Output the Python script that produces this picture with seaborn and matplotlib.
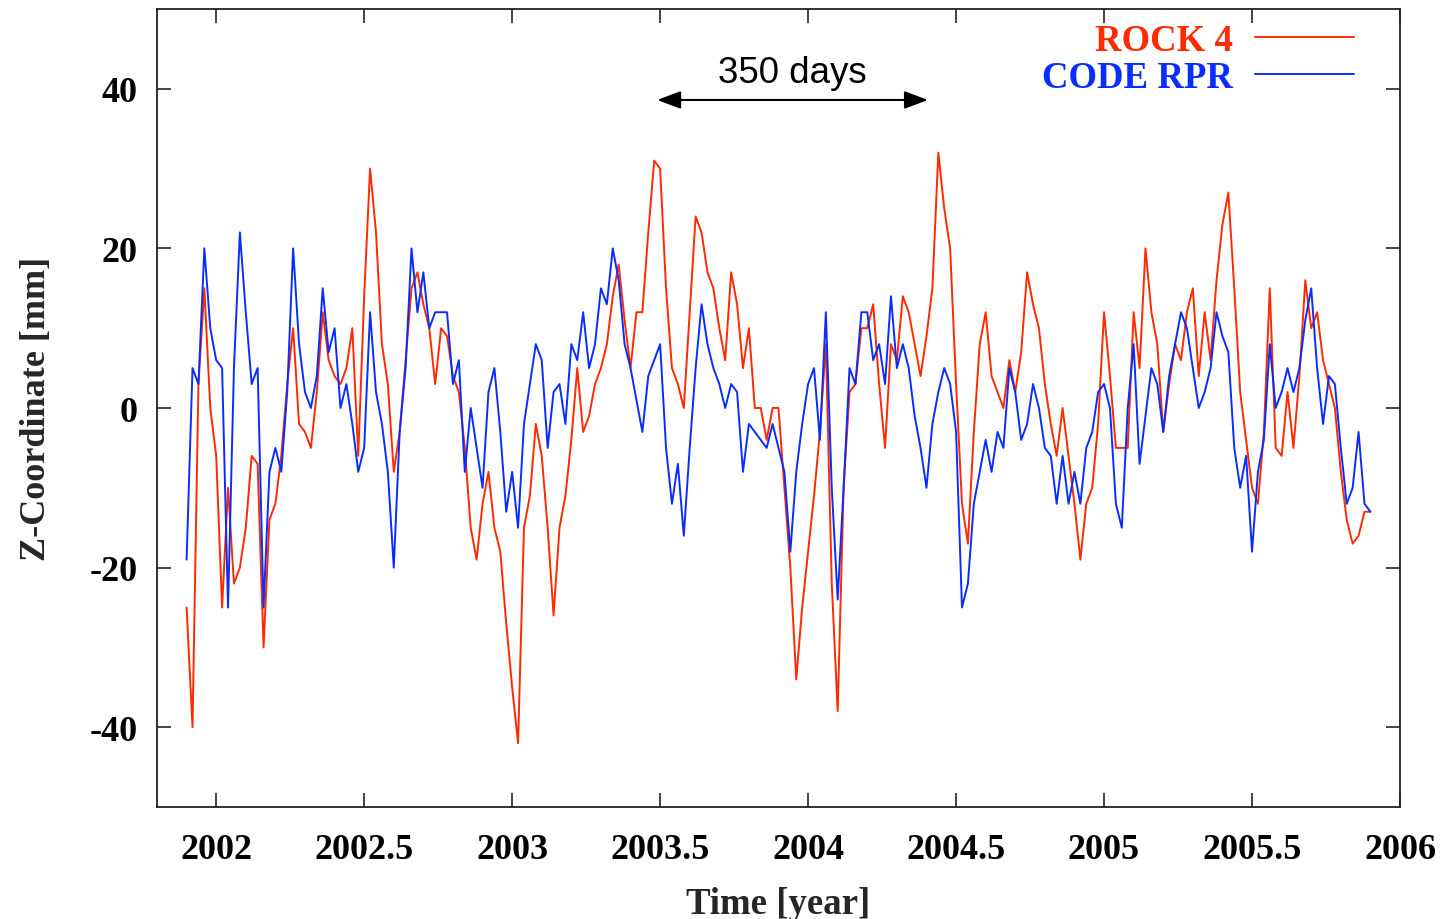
import numpy as np
import pandas as pd
import matplotlib
matplotlib.use("Agg")
import matplotlib.pyplot as plt
import seaborn as sns

# ---- data (~weekly samples) ----
t_start = 2001.90
t_step = 0.02
rock4 = [-25, -40, 3, 15, 0, -6, -25, -10, -22, -20, -15, -6, -7, -30, -14, -12, -6, 3, 10, -2,
         -3, -5, 2, 12, 6, 4, 3, 5, 10, -6, 14, 30, 22, 8, 3, -8, -3, 6, 15, 17,
         13, 10, 3, 10, 9, 4, 2, -5, -15, -19, -12, -8, -15, -18, -27, -35, -42, -15, -11, -2,
         -6, -15, -26, -15, -11, -4, 5, -3, -1, 3, 5, 8, 14, 18, 11, 5, 12, 12, 22, 31,
         30, 15, 5, 3, 0, 12, 24, 22, 17, 15, 10, 6, 17, 13, 5, 10, 0, 0, -4, 0,
         0, -10, -20, -34, -25, -18, -11, -3, 8, -22, -38, -10, 2, 3, 10, 10, 13, 3, -5, 8,
         6, 14, 12, 8, 4, 9, 15, 32, 25, 20, 3, -12, -17, -3, 8, 12, 4, 2, 0, 6,
         2, 7, 17, 13, 10, 3, -2, -6, 0, -6, -12, -19, -12, -10, -2, 12, 4, -5, -5, -5,
         12, 5, 20, 12, 8, -3, 3, 8, 6, 12, 15, 4, 12, 6, 16, 23, 27, 15, 2, -4,
         -10, -12, -3, 15, -5, -6, 2, -5, 4, 16, 10, 12, 6, 3, 0, -8, -14, -17, -16, -13,
         -13]
code_rpr = [-19, 5, 3, 20, 10, 6, 5, -25, 5, 22, 12, 3, 5, -25, -8, -5, -8, 2, 20, 8,
            2, 0, 4, 15, 7, 10, 0, 3, -2, -8, -5, 12, 2, -2, -8, -20, -3, 5, 20, 12,
            17, 10, 12, 12, 12, 3, 6, -8, 0, -5, -10, 2, 5, -3, -13, -8, -15, -2, 3, 8,
            6, -5, 2, 3, -2, 8, 6, 12, 5, 8, 15, 13, 20, 16, 8, 5, 1, -3, 4, 6,
            8, -5, -12, -7, -16, -5, 5, 13, 8, 5, 3, 0, 3, 2, -8, -2, -3, -4, -5, -2,
            -5, -8, -18, -8, -2, 3, 5, -4, 12, -10, -24, -10, 5, 3, 12, 12, 6, 8, 3, 14,
            5, 8, 5, -1, -5, -10, -2, 2, 5, 3, -3, -25, -22, -12, -8, -4, -8, -3, -5, 5,
            2, -4, -2, 3, 0, -5, -6, -12, -6, -12, -8, -12, -5, -3, 2, 3, 0, -12, -15, 0,
            8, -7, -1, 5, 3, -3, 4, 8, 12, 10, 5, 0, 2, 5, 12, 9, 7, -5, -10, -6,
            -18, -8, -4, 8, 0, 2, 5, 2, 5, 11, 15, 5, -2, 4, 3, -5, -12, -10, -3, -12,
            -13]
series_names = ["ROCK 4", "CODE RPR"]
series_colors = ["#ff2a00", "#0a2dff"]
xticks = [2002, 2002.5, 2003, 2003.5, 2004, 2004.5, 2005, 2005.5, 2006]
xtick_labels = ["2002", "2002.5", "2003", "2003.5", "2004", "2004.5", "2005", "2005.5", "2006"]
yticks = [-40, -20, 0, 20, 40]
arrow_span = [2003.49, 2004.405]
arrow_text = "350 days"

time = t_start + t_step * np.arange(len(rock4))
df = pd.concat([
    pd.DataFrame({"time": time, "z": rock4, "series": series_names[0]}),
    pd.DataFrame({"time": time, "z": code_rpr, "series": series_names[1]}),
])

sns.set_theme(style="ticks")
plt.rcParams["font.family"] = ["Liberation Serif", "DejaVu Serif"]
plt.rcParams["axes.unicode_minus"] = False

fig = plt.figure(figsize=(14.41, 9.2), dpi=100)
ax = fig.add_axes([157 / 1441, 1 - 808 / 920, (1400 - 157) / 1441, (808 - 10) / 920])

sns.lineplot(data=df, x="time", y="z", hue="series", palette=series_colors,
             hue_order=series_names, linewidth=1.4, ax=ax, legend=True)

ax.set_xlim(2001.8, 2006.0)
ax.set_ylim(-50, 50)
ax.set_xticks(xticks)
ax.set_xticklabels(xtick_labels)
ax.set_yticks(yticks)
ax.tick_params(direction="in", length=10, width=1.2, top=True, right=True,
               labelsize=26, pad=14, colors="#222222")
ax.tick_params(axis="x", pad=19)
for lab in ax.get_xticklabels() + ax.get_yticklabels():
    lab.set_fontweight("bold")
    lab.set_color("black")
for s in ax.spines.values():
    s.set_linewidth(1.3)
    s.set_color("#222222")

ax.set_xlabel("Time [year]", fontsize=26.5, fontweight="bold", labelpad=14)
ax.set_ylabel("Z-Coordinate [mm]", fontsize=26, fontweight="bold", labelpad=26)

leg = ax.legend(loc="upper right", bbox_to_anchor=(0.99, 1.024), markerfirst=False,
                frameon=False, labelcolor="linecolor", handlelength=2.7,
                handletextpad=0.6, labelspacing=0.05,
                prop={"family": "Liberation Serif", "weight": "bold", "size": 26.5})

ax.annotate("", xy=(arrow_span[0], 38.6), xytext=(arrow_span[1], 38.6),
            arrowprops=dict(arrowstyle="<|-|>,head_length=1.2,head_width=0.45",
                            color="black", lw=1.5, shrinkA=0, shrinkB=0))
ax.text(sum(arrow_span) / 2, 42.0, arrow_text, ha="center", va="center",
        fontsize=26.5, family="Liberation Sans", color="black")

fig.savefig("out.png", dpi=100, facecolor="white")
